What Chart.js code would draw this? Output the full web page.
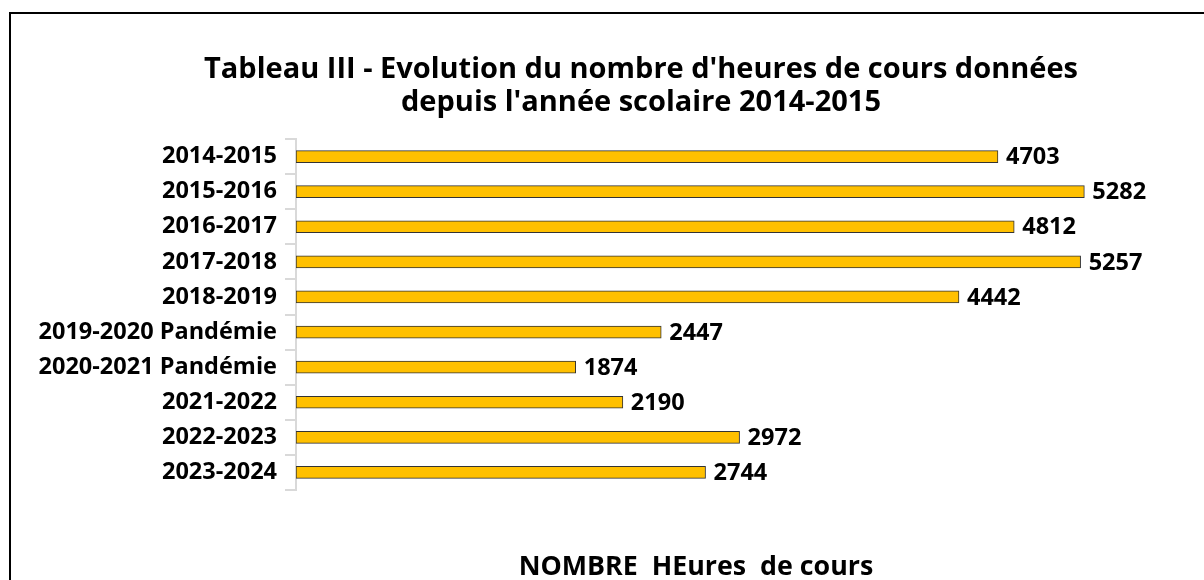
<!DOCTYPE html>
<html>
<head>
<meta charset="utf-8">
<script src="https://cdn.jsdelivr.net/npm/chart.js@4.4.1/dist/chart.umd.min.js"></script>
<style>
  html, body { margin: 0; padding: 0; background: #fff; overflow: hidden; width: 1204px; height: 580px; }
  #frame { position: absolute; left: 9px; top: 12px; width: 1262px; height: 620px; border: 2px solid #000; box-sizing: border-box; }
  #wrap { position: absolute; left: 11px; top: 14px; width: 1260px; height: 600px; }
</style>
</head>
<body>
<div id="frame"></div>
<div id="wrap"><canvas id="c"></canvas></div>
<script>
const categories = ["2014-2015", "2015-2016", "2016-2017", "2017-2018", "2018-2019",
  "2019-2020 Pandémie", "2020-2021 Pandémie", "2021-2022", "2022-2023", "2023-2024"];
const heures = [4703, 5282, 4812, 5257, 4442, 2447, 1874, 2190, 2972, 2744];
const titleLines = ["Tableau III - Evolution du nombre d'heures de cours données", "depuis l'année scolaire 2014-2015"];
const axisTitle = "NOMBRE  HEures  de cours";
const xMin = 0;
const xMax = 5360;

const FONT = "'Open Sans', 'DejaVu Sans', sans-serif";

const valueLabels = {
  id: 'valueLabels',
  afterDatasetsDraw(chart) {
    const ctx = chart.ctx;
    const meta = chart.getDatasetMeta(0);
    ctx.save();
    ctx.font = "bold 23.5px " + FONT;
    ctx.fillStyle = '#000';
    ctx.textAlign = 'left';
    ctx.textBaseline = 'middle';
    meta.data.forEach((bar, i) => {
      ctx.fillText(String(chart.data.datasets[0].data[i]), bar.x + 8, bar.y + 1);
    });
    ctx.restore();
  }
};

new Chart(document.getElementById('c'), {
  type: 'bar',
  data: {
    labels: categories,
    datasets: [{
      data: heures,
      backgroundColor: '#FFC000',
      borderColor: '#333333',
      borderWidth: 1,
      borderSkipped: false,
      barThickness: 12
    }]
  },
  options: {
    indexAxis: 'y',
    responsive: true,
    maintainAspectRatio: false,
    animation: false,
    layout: { padding: { left: 0, right: 0, top: 0, bottom: 0 } },
    plugins: {
      legend: { display: false },
      tooltip: { enabled: false },
      title: {
        display: true,
        text: titleLines,
        color: '#000',
        font: { family: FONT, size: 29, weight: 'bold', lineHeight: 1.138 },
        padding: { top: 39.5, bottom: 19.5 }
      }
    },
    scales: {
      x: {
        min: xMin, max: xMax,
        afterFit(scale) { scale.height = 124; },
        ticks: { display: false },
        grid: { display: false, drawTicks: false },
        border: { display: false },
        title: {
          display: true,
          text: axisTitle,
          color: '#000',
          font: { family: FONT, size: 26.8, weight: 'bold', lineHeight: 1.2 },
          padding: { top: 0, bottom: 31 }
        }
      },
      y: {
        afterFit(scale) { scale.width = 285; },
        ticks: { color: '#000', font: { family: FONT, size: 23.5, weight: 'bold' }, padding: 8 },
        grid: { drawOnChartArea: false, drawTicks: true, tickLength: 11, color: '#d9d9d9', lineWidth: 2 },
        border: { display: true, color: '#d9d9d9', width: 2 }
      },
      yRight: {
        type: 'category',
        axis: 'y',
        position: 'right',
        afterFit(scale) { scale.width = 175; },
        ticks: { display: false },
        grid: { display: false },
        border: { display: false }
      }
    }
  },
  plugins: [valueLabels]
});
</script>
</body>
</html>
